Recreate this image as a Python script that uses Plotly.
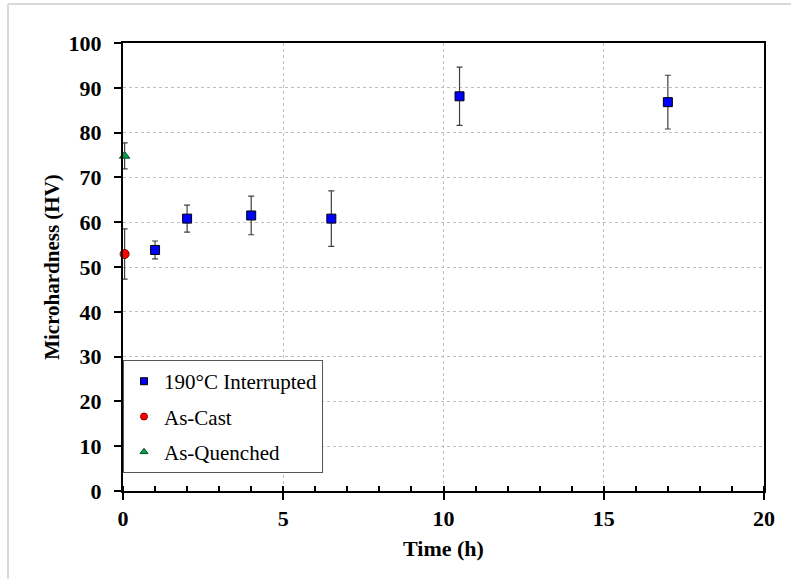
import plotly.graph_objects as go

# Data
interrupted_x = [1, 2, 4, 6.5, 10.5, 17]
interrupted_y = [53.8, 60.8, 61.5, 60.8, 88.1, 86.8]
interrupted_err = [2.0, 3.0, 4.3, 6.2, 6.5, 6.0]

cast_x = [0.05]
cast_y = [52.9]
cast_err = [5.6]

quenched_x = [0.05]
quenched_y = [74.8]
quenched_err = [2.9]

x_ticks = [0, 5, 10, 15, 20]
y_ticks = [0, 10, 20, 30, 40, 50, 60, 70, 80, 90, 100]

names = ["190°C Interrupted", "As-Cast", "As-Quenched"]

FONT = "Liberation Serif, Times New Roman, serif"
ERR = dict(type="data", visible=True, color="#404040", thickness=1.2, width=3)

markers = [
    dict(symbol="square", color="#0000ff", line=dict(color="black", width=1)),
    dict(symbol="circle", color="#ff0000", line=dict(color="#800000", width=1)),
    dict(symbol="triangle-up", color="#00a050", line=dict(color="#005020", width=1)),
]
series = [
    (interrupted_x, interrupted_y, interrupted_err),
    (cast_x, cast_y, cast_err),
    (quenched_x, quenched_y, quenched_err),
]

fig = go.Figure()
for i, ((xs, ys, es), mk) in enumerate(zip(series, markers)):
    fig.add_trace(go.Scatter(
        x=xs, y=ys, mode="markers", name=names[i], showlegend=False,
        error_y=dict(array=es, **ERR),
        marker=dict(size=9, **mk), cliponaxis=False))
for i, mk in enumerate(markers):
    fig.add_trace(go.Scatter(
        x=[None], y=[None], mode="markers", name=names[i], showlegend=True,
        legendgroup="g%d" % i,
        marker=dict(size=7, **mk)))

fig.update_layout(
    width=791, height=579,
    margin=dict(l=123, r=27, t=43, b=88),
    paper_bgcolor="white", plot_bgcolor="white",
    font=dict(family=FONT, color="black"),
    showlegend=True,
    legend=dict(
        x=0.0, y=0.04, xanchor="left", yanchor="bottom",
        bgcolor="white", bordercolor="#555555", borderwidth=1,
        font=dict(family=FONT, size=21, color="black"),
        tracegroupgap=5, itemsizing="trace",
        entrywidth=170,
    ),
    xaxis=dict(
        range=[0, 20], tickvals=x_ticks, ticktext=[str(v) for v in x_ticks],
        showline=True, linecolor="black", linewidth=2, mirror=True,
        ticks="outside", ticklen=7, tickwidth=2, tickcolor="black",
        minor=dict(dtick=1, ticks="inside", ticklen=5, tickwidth=2, tickcolor="black", showgrid=False),
        showgrid=True, gridcolor="#bfbfbf", griddash="dot", gridwidth=1,
        zeroline=False,
        tickfont=dict(family=FONT, size=22, color="black", weight="bold"),
        title=dict(text="Time (h)", font=dict(family=FONT, size=22, color="black", weight="bold"), standoff=10),
    ),
    yaxis=dict(
        range=[0, 100], tickvals=y_ticks, ticktext=[str(v) for v in y_ticks],
        showline=True, linecolor="black", linewidth=2, mirror=True,
        ticks="outside", ticklen=7, tickwidth=2, tickcolor="black",
        ticklabelstandoff=8,
        showgrid=True, gridcolor="#bfbfbf", griddash="dot", gridwidth=1,
        zeroline=False,
        tickfont=dict(family=FONT, size=22, color="black", weight="bold"),
        title=dict(text="Microhardness (HV)", font=dict(family=FONT, size=21, color="black", weight="bold"), standoff=3),
    ),
    shapes=[
        dict(type="line", xref="paper", yref="paper", x0=-0.1794, x1=1.1, y0=1.0871, y1=1.0871,
             line=dict(color="#d9d9d9", width=2)),
        dict(type="line", xref="paper", yref="paper", x0=-0.1794, x1=-0.1794, y0=-0.3, y1=1.0871,
             line=dict(color="#d9d9d9", width=2)),
    ],
)

fig.write_html("out.html")
